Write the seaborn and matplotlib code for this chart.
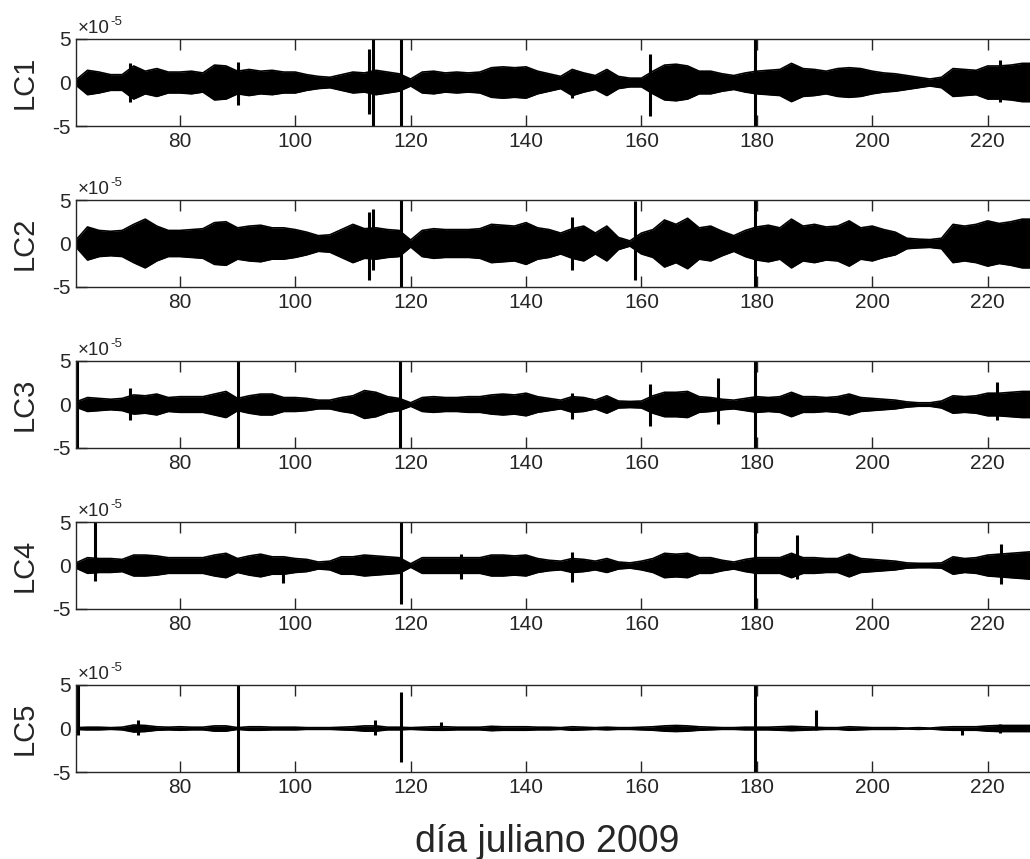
import numpy as np
import pandas as pd
import matplotlib
matplotlib.use("Agg")
import matplotlib.pyplot as plt
import seaborn as sns

# ---- datos (amplitud de la envolvente, unidades 1e-5) ----
DAYS = np.arange(62, 229, 2)
XTICKS = [80, 100, 120, 140, 160, 180, 200, 220]
YTICKS = [-5, 0, 5]
LABELS = ["LC1", "LC2", "LC3", "LC4", "LC5"]

amp_lc1 = [0.3, 1.4, 1.2, 0.9, 0.9, 1.9, 1.3, 1.6, 1.2, 1.2,
           1.3, 1.1, 2.0, 1.9, 1.3, 1.5, 1.3, 1.4, 1.2, 1.2,
           0.9, 0.7, 0.6, 0.9, 1.2, 1.1, 1.4, 1.2, 1.0, 0.4,
           1.2, 1.3, 1.1, 1.2, 1.1, 1.2, 1.7, 1.8, 1.7, 1.8,
           1.3, 1.0, 0.7, 1.5, 1.1, 0.8, 1.5, 0.7, 0.5, 0.5,
           1.3, 2.0, 2.1, 1.9, 1.3, 1.3, 1.0, 0.8, 1.1, 1.3,
           1.4, 1.5, 2.2, 1.6, 1.5, 1.3, 1.6, 1.7, 1.6, 1.3,
           1.1, 1.0, 0.8, 0.6, 0.4, 0.6, 1.6, 1.5, 1.4, 1.9,
           1.9, 2.0, 2.2, 2.2]
amp_lc2 = [0.4, 1.9, 1.5, 1.4, 1.5, 2.2, 2.8, 2.0, 1.5, 1.5,
           1.6, 1.7, 2.4, 2.5, 1.8, 2.0, 2.1, 1.8, 1.8, 1.6,
           1.3, 0.9, 1.0, 1.6, 2.2, 1.7, 1.8, 1.6, 1.5, 0.4,
           1.5, 1.7, 1.6, 1.6, 1.6, 1.7, 2.2, 2.1, 2.0, 2.4,
           1.8, 1.6, 1.2, 1.7, 2.0, 1.2, 2.0, 0.7, 0.3, 1.2,
           1.6, 2.7, 2.2, 2.9, 1.8, 2.0, 1.4, 0.9, 1.5, 1.9,
           2.1, 1.8, 2.8, 2.0, 2.2, 1.9, 2.0, 2.6, 1.8, 2.0,
           1.6, 1.3, 0.6, 0.5, 0.45, 0.6, 2.2, 2.0, 2.2, 2.6,
           2.3, 2.5, 2.8, 2.8]
amp_lc3 = [0.3, 0.8, 0.7, 0.6, 0.7, 1.1, 1.0, 1.2, 0.8, 0.9,
           0.9, 0.9, 1.2, 1.5, 0.7, 1.0, 1.2, 1.2, 0.8, 0.8,
           0.7, 0.5, 0.5, 0.8, 1.0, 1.6, 1.4, 0.9, 0.7, 0.2,
           0.8, 0.9, 0.8, 0.8, 0.9, 0.9, 1.1, 1.2, 1.1, 1.3,
           0.9, 0.7, 0.5, 0.9, 0.8, 0.5, 1.0, 0.4, 0.35, 0.4,
           1.0, 1.4, 1.4, 1.5, 0.9, 0.8, 0.6, 0.5, 0.7, 0.9,
           0.8, 0.9, 1.4, 0.9, 0.9, 0.8, 0.9, 1.2, 0.8, 0.7,
           0.6, 0.5, 0.3, 0.2, 0.2, 0.4, 1.0, 0.9, 1.0, 1.3,
           1.3, 1.4, 1.5, 1.5]
amp_lc4 = [0.3, 0.9, 0.8, 0.8, 0.7, 1.2, 1.2, 1.1, 0.9, 0.9,
           0.9, 0.9, 1.2, 1.4, 0.8, 1.1, 1.3, 1.0, 1.0, 0.8,
           0.7, 0.4, 0.5, 1.0, 1.0, 1.2, 1.1, 1.0, 0.9, 0.2,
           0.9, 0.9, 0.9, 0.9, 0.9, 0.9, 1.2, 1.2, 1.1, 1.2,
           0.8, 0.6, 0.5, 0.8, 0.7, 0.5, 0.8, 0.4, 0.3, 0.5,
           0.8, 1.4, 1.3, 1.4, 0.9, 0.9, 0.6, 0.4, 0.7, 0.9,
           0.9, 0.9, 1.4, 0.9, 0.9, 0.8, 0.8, 1.3, 0.8, 0.7,
           0.6, 0.5, 0.3, 0.25, 0.25, 0.3, 1.0, 0.8, 0.9, 1.2,
           1.3, 1.4, 1.5, 1.6]
amp_lc5 = [0.1, 0.15, 0.15, 0.1, 0.15, 0.4, 0.35, 0.2, 0.15, 0.2,
           0.15, 0.15, 0.3, 0.3, 0.1, 0.2, 0.2, 0.15, 0.15, 0.15,
           0.1, 0.1, 0.1, 0.15, 0.2, 0.3, 0.3, 0.15, 0.15, 0.1,
           0.15, 0.2, 0.2, 0.15, 0.15, 0.15, 0.25, 0.2, 0.2, 0.2,
           0.15, 0.15, 0.1, 0.2, 0.15, 0.1, 0.15, 0.1, 0.1, 0.15,
           0.2, 0.3, 0.35, 0.3, 0.2, 0.15, 0.1, 0.1, 0.15, 0.15,
           0.15, 0.2, 0.25, 0.2, 0.15, 0.1, 0.1, 0.2, 0.15, 0.1,
           0.1, 0.1, 0.05, 0.1, 0.05, 0.15, 0.2, 0.2, 0.2, 0.3,
           0.35, 0.35, 0.35, 0.35]

# picos aislados: (dia, maximo, minimo), unidades 1e-5
spikes_lc1 = [(71.4, 2.2, -2.2), (90.1, 2.3, -2.6), (112.8, 3.9, -3.6), (113.5, 5.5, -5.5),
              (118.3, 5.5, -5.5), (147.9, 1.3, -1.8), (161.5, 3.3, -3.9), (179.7, 5.5, -5.5),
              (222.1, 2.6, -2.2)]
spikes_lc2 = [(112.8, 3.6, -4.2), (113.5, 4.0, -3.1), (118.3, 5.5, -5.5), (147.9, 3.1, -3.0),
              (158.8, 4.9, -4.2), (179.7, 5.5, -5.5)]
spikes_lc3 = [(62.2, 5.5, -5.5), (71.3, 1.9, -1.8), (90.1, 5.5, -5.5), (118.2, 5.5, -5.5),
              (147.9, 1.3, -1.65), (161.5, 2.4, -2.5), (173.2, 3.1, -2.2), (179.7, 5.5, -5.5),
              (221.6, 2.6, -1.8)]
spikes_lc4 = [(65.3, 5.5, -1.8), (97.8, 0.9, -2.0), (118.3, 5.5, -4.4), (128.8, 1.3, -1.5),
              (147.9, 1.5, -1.9), (179.7, 5.5, -5.5), (186.9, 3.5, -1.5), (222.3, 2.5, -2.1)]
spikes_lc5 = [(62.4, 5.5, -0.7), (72.8, 1.0, -0.7), (90.1, 5.5, -5.5), (113.8, 1.0, -0.8),
              (118.3, 4.2, -3.8), (125.2, 0.8, -0.2), (179.7, 5.5, -5.5), (190.3, 2.1, -0.2),
              (215.5, 0.1, -0.7), (222.2, 0.5, -0.5)]

AMPS = [amp_lc1, amp_lc2, amp_lc3, amp_lc4, amp_lc5]
SPIKES = [spikes_lc1, spikes_lc2, spikes_lc3, spikes_lc4, spikes_lc5]

# ---- estilo ----
sns.set_theme(style="ticks")
plt.rcParams["font.family"] = ["Liberation Sans", "DejaVu Sans"]
AX_COLOR = "#262626"
plt.rcParams.update({
    "xtick.top": True, "xtick.bottom": True, "ytick.left": True, "ytick.right": True,
    "xtick.direction": "in", "ytick.direction": "in",
    "xtick.major.size": 8, "ytick.major.size": 8,
    "xtick.major.width": 1.0, "ytick.major.width": 1.0,
    "xtick.color": AX_COLOR, "ytick.color": AX_COLOR,
    "axes.edgecolor": AX_COLOR, "axes.linewidth": 1.0,
})

fig = plt.figure(figsize=(10.3, 8.59), dpi=100)

left = 76 / 1030
width = (230 - 62) * 5.77 / 1030
height = 87 / 859
bottoms_px = [126, 287, 448, 609, 772]

for i, (lab, amp, spk) in enumerate(zip(LABELS, AMPS, SPIKES)):
    ax = fig.add_axes([left, 1 - bottoms_px[i] / 859, width, height])
    amp = np.asarray(amp)
    df = pd.DataFrame({"dia": DAYS, "sup": amp, "inf": -amp})

    ax.fill_between(df["dia"], df["inf"], df["sup"], color="black", lw=0)
    sns.lineplot(data=df, x="dia", y="sup", ax=ax, color="black", lw=1.2)
    sns.lineplot(data=df, x="dia", y="inf", ax=ax, color="black", lw=1.2)

    sd = pd.DataFrame(spk, columns=["dia", "max", "min"])
    ax.vlines(sd["dia"], sd["min"], sd["max"], color="black", lw=2.2)

    ax.set_xlim(62, 230)
    ax.set_ylim(-5, 5)
    ax.set_xticks(XTICKS)
    ax.set_yticks(YTICKS)
    ax.set_yticklabels([str(t) for t in YTICKS])
    ax.set_xlabel("")
    ax.set_ylabel("")
    ax.tick_params(axis="both", labelcolor=AX_COLOR, labelsize=15)
    ax.tick_params(axis="x", pad=4)
    ax.tick_params(axis="y", pad=4)
    for s in ax.spines.values():
        s.set_visible(True)

    # factor de escala estilo MATLAB
    ax.annotate("×10", xy=(0, 1), xycoords="axes fraction", xytext=(1, 4),
                textcoords="offset points", ha="left", va="baseline", fontsize=13.5,
                color=AX_COLOR)
    ax.annotate("-5", xy=(0, 1), xycoords="axes fraction", xytext=(25, 10),
                textcoords="offset points", ha="left", va="baseline", fontsize=9.5,
                color=AX_COLOR)
    fig.text(25 / 1030, 1 - (bottoms_px[i] - 43.5) / 859, lab, rotation=90, ha="center",
             va="center", fontsize=21, color=AX_COLOR)

fig.text(0.531, 7 / 859, "día juliano 2009", ha="center", va="baseline", fontsize=27,
         color=AX_COLOR)

fig.savefig("out.png", dpi=100)
